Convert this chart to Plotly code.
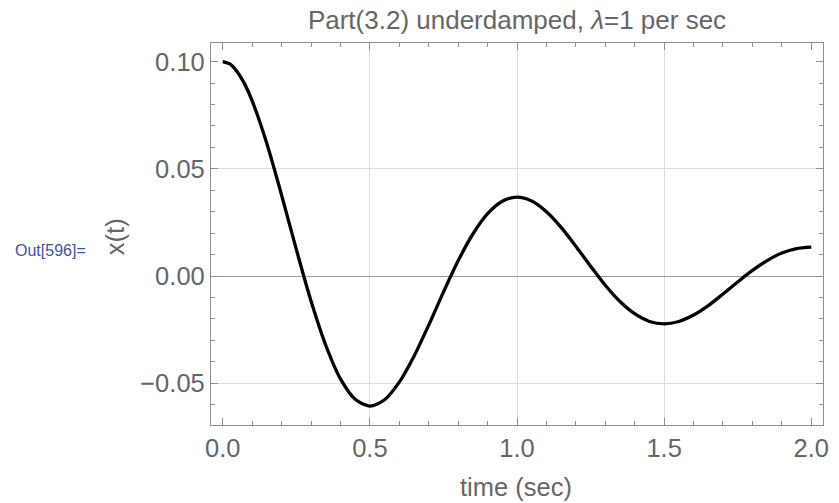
import plotly.graph_objects as go

# time samples (sec) and displacement x(t)
t_vals = [0.00, 0.025, 0.05, 0.075, 0.10, 0.15, 0.20, 0.25, 0.30, 0.35, 0.40, 0.45,
          0.50, 0.55, 0.60, 0.65, 0.70, 0.75, 0.80, 0.85, 0.90, 0.95,
          1.00, 1.05, 1.10, 1.15, 1.20, 1.25, 1.30, 1.35, 1.40, 1.45,
          1.50, 1.55, 1.60, 1.65, 1.70, 1.75, 1.80, 1.85, 1.90, 1.95, 2.00]
x_vals = [0.1000, 0.0988, 0.0951, 0.0894, 0.0817, 0.0617, 0.0377, 0.0124, -0.0117, -0.0323, -0.0480, -0.0575,
          -0.0607, -0.0577, -0.0495, -0.0374, -0.0229, -0.0075, 0.0071, 0.0196, 0.0291, 0.0349,
          0.0368, 0.0350, 0.0300, 0.0227, 0.0139, 0.0046, -0.0043, -0.0119, -0.0176, -0.0212,
          -0.0223, -0.0212, -0.0182, -0.0138, -0.0084, -0.0028, 0.0026, 0.0072, 0.0107, 0.0128, 0.0135]

x_ticks = [0.0, 0.5, 1.0, 1.5, 2.0]
y_ticks = [-0.05, 0.00, 0.05, 0.10]
x_grid = [0.5, 1.0, 1.5]
y_grid = [-0.05, 0.05]

title_text = "Part(3.2) underdamped, <i>λ</i>=1 per sec"
x_title = "time (sec)"
y_title = "x(t)"
out_label = "Out[596]="

x_range = [-0.04, 2.04]
y_range = [-0.0695, 0.1087]

FONT = "Liberation Sans, Arial, Helvetica, sans-serif"
TXT = "#666666"
FRAME = "#8f8f8f"
GRID = "#dcdcdc"

fig = go.Figure()
fig.add_trace(go.Scatter(
    x=t_vals, y=x_vals, mode="lines", line=dict(color="black", width=3.3, shape="spline", smoothing=0.8),
    showlegend=False, hoverinfo="skip"))
# empty trace to carry the grid-only overlay axes
fig.add_trace(go.Scatter(x=[], y=[], xaxis="x2", yaxis="y2", showlegend=False, hoverinfo="skip"))

fig.update_layout(
    width=839, height=503,
    margin=dict(l=211, r=10, t=43, b=78),
    paper_bgcolor="white", plot_bgcolor="white",
    font=dict(family=FONT, size=25, color=TXT),
    title=dict(text=title_text, x=0.5, xref="paper", y=(503 - 20) / 503, yref="container",
               xanchor="center", yanchor="middle", font=dict(size=26, color=TXT, family=FONT)),
    xaxis=dict(range=x_range, tickvals=x_ticks, tickformat=".1f", ticks="inside", ticklen=7,
               tickwidth=1.2, tickcolor=FRAME, showline=True, linecolor=FRAME, linewidth=1.3,
               mirror="ticks", showgrid=False, zeroline=False,
               minor=dict(dtick=0.1, tick0=0, ticks="inside", ticklen=4, tickcolor=FRAME,
                          tickwidth=1, showgrid=False),
               tickfont=dict(size=25.5, color=TXT), ticklabelstandoff=0),
    yaxis=dict(range=y_range, tickvals=y_ticks, tickformat=".2f", ticks="inside", ticklen=7,
               tickwidth=1.2, tickcolor=FRAME, showline=True, linecolor=FRAME, linewidth=1.3,
               mirror="ticks", showgrid=False, zeroline=True, zerolinecolor="#9a9a9a",
               zerolinewidth=1.3,
               minor=dict(dtick=0.01, tick0=0, ticks="inside", ticklen=4, tickcolor=FRAME,
                          tickwidth=1, showgrid=False),
               tickfont=dict(size=25.5, color=TXT), ticklabelstandoff=0),
    xaxis2=dict(range=x_range, overlaying="x", tickvals=x_grid, showgrid=True, gridcolor=GRID,
                gridwidth=1.3, showticklabels=False, ticks="", showline=False, zeroline=False),
    yaxis2=dict(range=y_range, overlaying="y", tickvals=y_grid, showgrid=True, gridcolor=GRID,
                gridwidth=1.3, showticklabels=False, ticks="", showline=False, zeroline=False),
)

fig.add_annotation(text=y_title, xref="paper", yref="paper", x=(114 - 210.7) / 618.3,
                   y=(425 - 237) / 381.7, textangle=-90, showarrow=False,
                   xanchor="center", yanchor="middle", font=dict(size=25.5, color=TXT, family=FONT))
fig.add_annotation(text=x_title, xref="paper", yref="paper", x=(519 - 210.7) / 618.3,
                   y=(425 - 487) / 381.7, showarrow=False,
                   xanchor="center", yanchor="middle", font=dict(size=25.5, color=TXT, family=FONT))
fig.add_annotation(text=out_label, xref="paper", yref="paper", x=(48.5 - 210.7) / 618.3,
                   y=(425 - 251) / 381.7, showarrow=False,
                   xanchor="center", yanchor="middle", font=dict(size=16, color="#3f51a3", family=FONT))

fig.write_html("out.html")
